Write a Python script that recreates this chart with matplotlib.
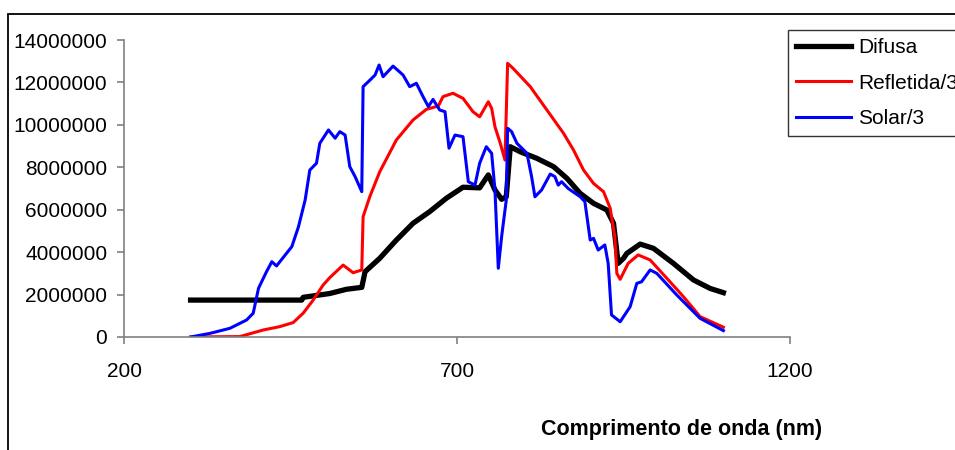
import matplotlib.pyplot as plt
from matplotlib.patches import Rectangle

plt.rcParams['font.family'] = ['Liberation Sans', 'DejaVu Sans']

# Difusa
wl_difusa = [300, 467, 469, 509, 534, 557, 562, 584, 609, 634, 659, 684, 709, 734,
             747, 757, 767, 774, 780, 795, 820, 845, 865, 885, 905, 925, 935, 942,
             950, 955, 975, 995, 1025, 1055, 1080, 1100]
difusa = [1.74e6, 1.74e6, 1.87e6, 2.05e6, 2.25e6, 2.34e6, 3.08e6, 3.71e6, 4.57e6,
          5.36e6, 5.91e6, 6.54e6, 7.06e6, 7.03e6, 7.64e6, 6.93e6, 6.49e6, 6.61e6,
          8.97e6, 8.73e6, 8.42e6, 8.03e6, 7.48e6, 6.77e6, 6.30e6, 5.99e6, 5.36e6,
          3.47e6, 3.71e6, 3.94e6, 4.38e6, 4.18e6, 3.47e6, 2.69e6, 2.29e6, 2.09e6]

# Refletida/3
wl_refletida = [300, 374, 409, 434, 454, 469, 484, 499, 509, 529, 544, 557, 559, 569,
                584, 609, 634, 654, 672, 679, 694, 709, 724, 734, 747, 752, 757, 765,
                772, 776, 784, 810, 835, 860, 875, 890, 905, 920, 930, 937, 940, 945,
                957, 972, 990, 1015, 1040, 1065, 1100]
refletida = [0, 0.02e6, 0.33e6, 0.49e6, 0.68e6, 1.12e6, 1.74e6, 2.45e6, 2.80e6,
             3.39e6, 3.03e6, 3.16e6, 5.67e6, 6.61e6, 7.79e6, 9.29e6, 10.23e6,
             10.73e6, 10.89e6, 11.33e6, 11.49e6, 11.25e6, 10.62e6, 10.38e6, 11.09e6,
             10.78e6, 9.91e6, 9.13e6, 8.34e6, 12.90e6, 12.67e6, 11.80e6, 10.70e6,
             9.60e6, 8.81e6, 7.87e6, 7.24e6, 6.85e6, 6.07e6, 4.73e6, 3.00e6, 2.72e6,
             3.47e6, 3.87e6, 3.63e6, 2.77e6, 1.90e6, 0.96e6, 0.46e6]

# Solar/3
wl_solar = [300, 329, 359, 384, 394, 402, 414, 422, 429, 452, 462, 472, 479, 489,
            494, 507, 517, 524, 532, 539, 547, 557, 559, 569, 577, 583, 589, 604,
            619, 629, 639, 649, 657, 664, 674, 682, 688, 697, 709, 717, 727, 734,
            744, 752, 757, 762, 767, 774, 776, 782, 790, 805, 812, 817, 827, 840,
            847, 852, 857, 867, 885, 892, 900, 905, 912, 922, 927, 932, 945, 960,
            970, 977, 990, 1000, 1030, 1065, 1100]
solar = [0, 0.17e6, 0.41e6, 0.80e6, 1.12e6, 2.30e6, 3.08e6, 3.55e6, 3.35e6, 4.26e6,
         5.20e6, 6.46e6, 7.87e6, 8.19e6, 9.13e6, 9.76e6, 9.37e6, 9.68e6, 9.52e6,
         8.03e6, 7.56e6, 6.85e6, 11.80e6, 12.10e6, 12.35e6, 12.82e6, 12.27e6,
         12.77e6, 12.35e6, 11.80e6, 11.96e6, 11.33e6, 10.86e6, 11.20e6, 10.70e6,
         10.62e6, 8.90e6, 9.52e6, 9.44e6, 7.32e6, 7.16e6, 8.19e6, 8.97e6, 8.66e6,
         6.93e6, 3.24e6, 4.73e6, 6.46e6, 9.84e6, 9.68e6, 9.13e6, 8.66e6, 7.56e6,
         6.61e6, 6.93e6, 7.68e6, 7.56e6, 7.16e6, 7.32e6, 7.00e6, 6.61e6, 6.38e6,
         4.57e6, 4.65e6, 4.10e6, 4.34e6, 3.47e6, 1.04e6, 0.72e6, 1.43e6, 2.53e6,
         2.60e6, 3.16e6, 3.00e6, 1.98e6, 0.88e6, 0.30e6]

x_ticks = [200, 700, 1200]
y_ticks = [0, 2000000, 4000000, 6000000, 8000000, 10000000, 12000000, 14000000]

fig = plt.figure(figsize=(9.55, 4.5), dpi=100)
ax = fig.add_axes([124 / 955, 1 - 337 / 450, 666 / 955, 297 / 450])

# outer chart frame (cut off on the right and bottom)
fig.patches.append(Rectangle((8 / 955, -0.2), 1.2, 0.2 + 1 - 14 / 450,
                             transform=fig.transFigure, fill=False,
                             edgecolor='black', linewidth=1.3))

ax.plot(wl_difusa, difusa, color='black', linewidth=3.8, label='Difusa')
ax.plot(wl_refletida, refletida, color='#ff0000', linewidth=2.2, label='Refletida/3')
ax.plot(wl_solar, solar, color='#0000ff', linewidth=2.2, label='Solar/3')

ax.set_xlim(200, 1200)
ax.set_ylim(0, 14000000)
ax.set_xticks(x_ticks)
ax.set_yticks(y_ticks)
ax.set_xticklabels([str(v) for v in x_ticks])
ax.set_yticklabels([str(v) for v in y_ticks])

for side in ['top', 'right']:
    ax.spines[side].set_visible(False)
for side in ['left', 'bottom']:
    ax.spines[side].set_color('#808080')
    ax.spines[side].set_linewidth(1.2)
ax.tick_params(axis='both', colors='#808080', labelcolor='black', labelsize=15,
               length=5, width=1.2)
ax.tick_params(axis='x', pad=13)
ax.tick_params(axis='y', pad=7)

fig.text(682 / 955, 1 - 429 / 450, 'Comprimento de onda (nm)', fontsize=15.5,
         fontweight='bold', ha='center', va='center')

leg = ax.legend(loc='upper left', bbox_to_anchor=(788 / 955, 1 - 30 / 450),
                bbox_transform=fig.transFigure, fontsize=15, frameon=True,
                fancybox=False, edgecolor='black', handlelength=2.6,
                handletextpad=0.35, labelspacing=0.78, borderpad=0.4,
                borderaxespad=0)
leg.get_frame().set_linewidth(1.0)

fig.savefig('out.png', dpi=100)
